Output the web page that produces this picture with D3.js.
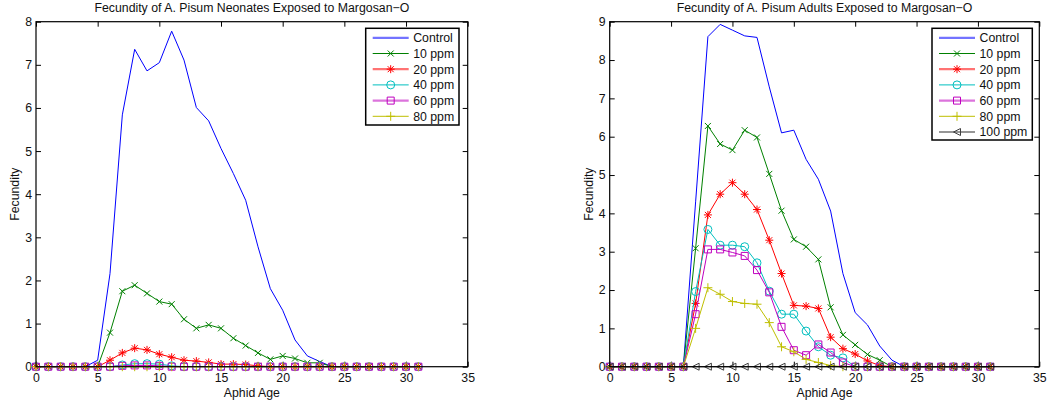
<!DOCTYPE html>
<html>
<head>
<meta charset="utf-8">
<script src="https://cdn.jsdelivr.net/npm/d3@7"></script>
<style>
body { margin: 0; background: #fff; }
svg { display: block; font-family: "Liberation Sans", Arial, sans-serif; }
</style>
</head>
<body>
<svg id="chart" width="1057" height="403"></svg>
<script>
// aphid age 0..31
var ages = d3.range(0, 32);

var xTicks = [0, 5, 10, 15, 20, 25, 30, 35];

// neonates
var ctrlN = [0,0,0,0,0,0.15,2.16,5.84,7.36,6.86,7.05,7.78,7.11,6.01,5.70,5.06,4.48,3.86,2.78,1.81,1.31,0.62,0.25,0.12,0,0,0,0,0,0,0,0];
var p10N  = [0,0,0,0,0,0,0.79,1.75,1.89,1.70,1.51,1.45,1.10,0.89,0.97,0.89,0.66,0.49,0.32,0.17,0.25,0.19,0.09,0.09,0,0,0,0,0,0,0,0];
var p20N  = [0,0,0,0,0,0,0.15,0.32,0.43,0.39,0.29,0.22,0.15,0.13,0.10,0.06,0.06,0.05,0.02,0,0,0,0,0,0,0,0,0,0,0,0,0];
var p40N  = [0,0,0,0,0,0,0,0.04,0.07,0.07,0.06,0.02,0,0,0,0,0,0,0,0,0,0,0,0,0,0,0,0,0,0,0,0];
var p60N  = [0,0,0,0,0,0,0,0.02,0.03,0.03,0.02,0,0,0,0,0,0,0,0,0,0,0,0,0,0,0,0,0,0,0,0,0];
var p80N  = [0,0,0,0,0,0,0,0,0,0,0,0,0,0,0,0,0,0,0,0,0,0,0,0,0,0,0,0,0,0,0,0];

// adults
var ctrlA = [0,0,0,0,0,0,0,4.30,8.61,8.93,8.78,8.63,8.59,7.30,6.10,6.17,5.41,4.89,4.06,2.43,1.41,1.09,0.54,0.17,0,0,0,0,0,0,0,0];
var p10A  = [0,0,0,0,0,0,0,3.09,6.28,5.81,5.65,6.17,5.98,5.03,4.07,3.32,3.13,2.80,1.55,0.83,0.57,0.32,0.17,0,0,0,0,0,0,0,0,0];
var p20A  = [0,0,0,0,0,0,0,1.65,3.96,4.50,4.80,4.50,4.10,3.30,2.43,1.60,1.58,1.52,0.77,0.47,0.33,0.15,0.03,0,0,0,0,0,0,0,0,0];
var p40A  = [0,0,0,0,0,0,0,1.96,3.58,3.17,3.17,3.13,2.71,1.97,1.37,1.37,0.93,0.52,0.30,0.23,0,0,0,0,0,0,0,0,0,0,0,0];
var p60A  = [0,0,0,0,0,0,0,1.37,3.06,3.06,2.98,2.89,2.52,1.94,1.04,0.43,0.30,0.58,0.37,0.11,0,0,0,0,0,0,0,0,0,0,0,0];
var p80A  = [0,0,0,0,0,0,0,1.00,2.06,1.89,1.70,1.65,1.63,1.15,0.52,0.39,0.19,0.11,0.03,0,0,0,0,0,0,0,0,0,0,0,0,0];
var p100A = [0,0,0,0,0,0,0,0,0,0,0,0,0,0,0,0,0,0,0,0,0,0,0,0,0,0,0,0,0,0,0,0];

var names = ["Control", "10 ppm", "20 ppm", "40 ppm", "60 ppm", "80 ppm", "100 ppm"];
var colors = ["#0000ff", "#008000", "#ff0000", "#00bfbf", "#bf00bf", "#bfbf00", "#404040"];
var markers = ["none", "x", "star", "circle", "square", "plus", "tri"];

var fs = 12.3;
var svg = d3.select("#chart");

function markerPath(type) {
	var p = d3.path();
	if (type == "x" || type == "star") {
		var s = 3;
		p.moveTo(-s, -s); p.lineTo(s, s);
		p.moveTo(-s, s); p.lineTo(s, -s);
	}
	if (type == "star") {
		p.moveTo(-4, 0); p.lineTo(4, 0);
		p.moveTo(0, -4); p.lineTo(0, 4);
	}
	if (type == "plus") {
		p.moveTo(-4.5, 0); p.lineTo(4.5, 0);
		p.moveTo(0, -4.5); p.lineTo(0, 4.5);
	}
	if (type == "circle") {
		p.moveTo(4, 0); p.arc(0, 0, 4, 0, Math.PI * 2);
	}
	if (type == "square") {
		p.rect(-3.5, -3.5, 7, 7);
	}
	if (type == "tri") {
		p.moveTo(-3.5, 0); p.lineTo(3.5, -3.5); p.lineTo(3.5, 3.5); p.closePath();
	}
	return p.toString();
}

function drawPlot(opt) {
	var x = d3.scaleLinear().domain([0, 35]).range([opt.left, opt.right]);
	var y = d3.scaleLinear().domain([0, opt.ymax]).range([opt.bottom, opt.top]);
	var yTicks = d3.range(0, opt.ymax + 1);

	var g = svg.append("g");

	// ticks (inward, all four sides)
	var bx = g.append("g").attr("transform", "translate(0," + opt.bottom + ")")
		.call(d3.axisBottom(x).tickValues(xTicks).tickSizeInner(-5).tickSizeOuter(0).tickPadding(7));
	var tx = g.append("g").attr("transform", "translate(0," + opt.top + ")")
		.call(d3.axisTop(x).tickValues(xTicks).tickSizeInner(-5).tickSizeOuter(0).tickFormat(""));
	var ly = g.append("g").attr("transform", "translate(" + opt.left + ",0)")
		.call(d3.axisLeft(y).tickValues(yTicks).tickSizeInner(-5).tickSizeOuter(0).tickPadding(4));
	var ry = g.append("g").attr("transform", "translate(" + opt.right + ",0)")
		.call(d3.axisRight(y).tickValues(yTicks).tickSizeInner(-5).tickSizeOuter(0).tickFormat(""));
	[bx, tx, ly, ry].forEach(function(a) {
		a.select(".domain").remove();
		a.selectAll("line").attr("stroke", "#000").attr("stroke-width", 1);
		a.selectAll("text").attr("font-size", fs).attr("fill", "#111").style("font-family", "Liberation Sans, Arial, sans-serif");
	});

	// series
	var line = d3.line().x(function(d, i) { return x(ages[i]); }).y(function(d) { return y(d); });
	opt.series.forEach(function(s, k) {
		var sg = g.append("g");
		sg.append("path").datum(s).attr("d", line)
			.attr("fill", "none").attr("stroke", colors[k]).attr("stroke-width", 1);
		if (markers[k] != "none") {
			sg.selectAll("path.m").data(s).enter().append("path").attr("class", "m")
				.attr("transform", function(d, i) { return "translate(" + x(ages[i]) + "," + y(d) + ")"; })
				.attr("d", markerPath(markers[k]))
				.attr("fill", "none").attr("stroke", colors[k]).attr("stroke-width", 1);
		}
	});

	// box
	g.append("rect").attr("x", opt.left).attr("y", opt.top)
		.attr("width", opt.right - opt.left).attr("height", opt.bottom - opt.top)
		.attr("fill", "none").attr("stroke", "#000").attr("stroke-width", 1.2);

	// title and labels
	g.append("text").attr("x", (opt.left + opt.right) / 2).attr("y", 12)
		.attr("text-anchor", "middle").attr("font-size", fs).attr("fill", "#111").text(opt.title);
	g.append("text").attr("x", (opt.left + opt.right) / 2).attr("y", 397)
		.attr("text-anchor", "middle").attr("font-size", fs).attr("fill", "#111").text("Aphid Age");
	g.append("text").attr("transform", "translate(" + opt.ylabelX + "," + (opt.top + opt.bottom) / 2 + ") rotate(-90)")
		.attr("text-anchor", "middle").attr("font-size", fs).attr("fill", "#111").text("Fecundity");

	// legend
	var n = opt.series.length;
	var lg = g.append("g");
	lg.append("rect").attr("x", opt.legX).attr("y", opt.legY)
		.attr("width", opt.legW).attr("height", opt.legH)
		.attr("fill", "#fff").attr("stroke", "#000").attr("stroke-width", 1.5);
	for (var k = 0; k < n; k++) {
		var yy = opt.legY + 9.5 + k * 15.7;
		var faded = (k == 0 || k == 2 || k == 4 || k == 6);
		var x0 = opt.legX + 7, x1 = opt.legX + 43;
		lg.append("line").attr("x1", x0).attr("x2", x1).attr("y1", yy).attr("y2", yy)
			.attr("stroke", colors[k]).attr("stroke-width", faded ? 2.2 : 1)
			.attr("stroke-opacity", faded ? 0.55 : 1);
		if (markers[k] != "none") {
			lg.append("path").attr("transform", "translate(" + ((x0 + x1) / 2) + "," + yy + ")")
				.attr("d", markerPath(markers[k]))
				.attr("fill", "none").attr("stroke", colors[k]).attr("stroke-width", 1);
		}
		lg.append("text").attr("x", x1 + 4.5).attr("y", yy + 4.3)
			.attr("font-size", fs).attr("fill", "#111").text(names[k]);
	}
}

drawPlot({
	title: "Fecundity of A. Pisum Neonates Exposed to Margosan\u2212O",
	left: 36, right: 467.7, top: 21.7, bottom: 366.7, ymax: 8,
	ylabelX: 19,
	series: [ctrlN, p10N, p20N, p40N, p60N, p80N],
	legX: 365.7, legY: 28.3, legW: 93.3, legH: 96.7
});

drawPlot({
	title: "Fecundity of A. Pisum Adults Exposed to Margosan\u2212O",
	left: 609.7, right: 1039.3, top: 21.7, bottom: 366.7, ymax: 9,
	ylabelX: 593,
	series: [ctrlA, p10A, p20A, p40A, p60A, p80A, p100A],
	legX: 932, legY: 28.3, legW: 100.3, legH: 111.7
});
</script>
</body>
</html>
